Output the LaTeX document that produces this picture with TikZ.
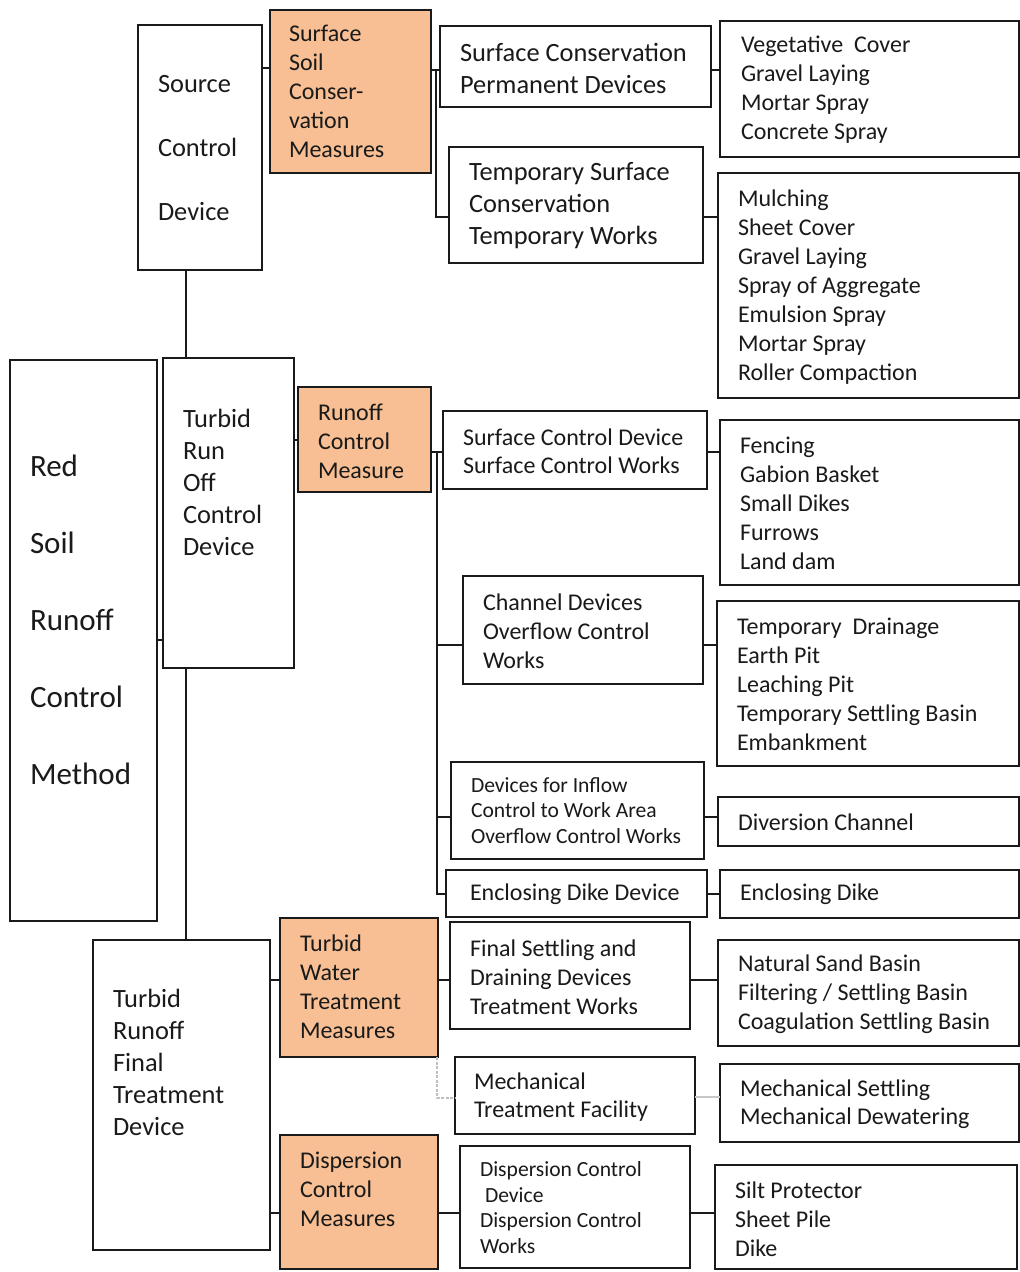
\documentclass[tikz,border=0pt]{standalone}
\usepackage{fontspec}
\setmainfont{Carlito}
\definecolor{orangefill}{HTML}{F7BF93}
\definecolor{linec}{HTML}{1A1A1A}
\tikzset{
  box/.style={draw=linec, line width=2.1pt, inner sep=0pt, outer sep=0pt},
  obox/.style={fill=orangefill},
  txt/.style={inner sep=0pt, outer sep=0pt, align=left, anchor=west, text=linec},
  fH/.style={font=\fontsize{31}{77}\selectfont},
  fS/.style={font=\fontsize{26.4}{64}\selectfont},
  fB/.style={font=\fontsize{26.4}{32}\selectfont},
  fM/.style={font=\fontsize{24}{29}\selectfont},
  fN/.style={font=\fontsize{24}{28}\selectfont},
  fs/.style={font=\fontsize{21.6}{25.7}\selectfont},
  conn/.style={draw=linec, line width=1.9pt},
  gconn/.style={draw=black!25, line width=1.8pt, dash pattern=on 3pt off 1.5pt},
  gsolid/.style={draw=black!22, line width=1.8pt}
}
\newcommand\bx[9]{%
  \node[box,#8,anchor=north west,minimum width={#4-#2},minimum height={#5-#3}] (#1) at (#2,#3) {};
  \node[txt,#8,draw=none,fill=none] (#1-t) at (#6,#7) {#9};
}
\begin{document}
\begin{tikzpicture}[x=1pt,y=-1pt]
\useasboundingbox (0,0) rectangle (1020,1272);
\fill[white] (0,0) rectangle (1020,1272);
\begin{scope}
\clip (0,0) rectangle (1020,1272);
% column 1/2
\bx{src}{138}{25}{262}{270}{158}{148}{fS}{Source\\Control\\Device}
\bx{ss}{270}{10}{431}{173}{289}{91.5}{obox,fM}{Surface\\Soil\\Conser-\\vation\\Measures}
\bx{scp}{440}{26}{711}{107}{460}{68}{fB}{Surface Conservation\\Permanent Devices}
\bx{tsc}{449}{147}{703}{263}{469}{205.5}{fB}{Temporary Surface\\Conservation\\Temporary Works}
\bx{veg}{720}{21}{1019}{157}{741}{90}{fM}{Vegetative~ Cover\\Gravel Laying\\Mortar Spray\\Concrete Spray}
\bx{mul}{718}{173}{1019}{398}{738}{287.5}{fM}{Mulching\\Sheet Cover\\Gravel Laying\\Spray of Aggregate\\Emulsion Spray\\Mortar Spray\\Roller Compaction}
\bx{red}{10}{360}{157}{921}{30}{620}{fH}{Red\\Soil\\Runoff\\Control\\Method}
\bx{trc}{163}{358}{294}{668}{183}{482}{fB}{Turbid\\Run\\Off\\Control\\Device}
\bx{rcm}{298}{387}{431}{492}{318}{441}{obox,fM}{Runoff\\Control\\Measure}
\bx{scd}{443}{411}{707}{489}{463}{451}{fN}{Surface Control Device\\Surface Control Works}
\bx{chd}{463}{576}{703}{684}{483}{631}{fM}{Channel Devices\\Overflow Control\\Works}
\bx{dif}{451}{762}{704}{859}{471}{810.5}{fs}{Devices for Inflow\\Control to Work Area\\Overflow Control Works}
\bx{edd}{446}{870}{707}{917}{470}{894}{fM}{Enclosing Dike Device}
\bx{fen}{720}{420}{1019}{585}{740}{503.5}{fM}{Fencing\\Gabion Basket\\Small Dikes\\Furrows\\Land dam}
\bx{tdr}{717}{601}{1019}{766}{737}{684}{fM}{Temporary~ Drainage\\Earth Pit\\Leaching Pit\\Temporary Settling Basin\\Embankment}
\bx{div}{718}{797}{1019}{846}{738}{822}{fM}{Diversion Channel}
\bx{end}{720}{870}{1019}{918}{740}{894}{fM}{Enclosing Dike}
\bx{trf}{93}{940}{270}{1250}{113}{1062}{fB}{Turbid\\Runoff\\Final\\Treatment\\Device}
\bx{twt}{280}{918}{438}{1057}{300}{987}{obox,fM}{Turbid\\Water\\Treatment\\Measures}
\bx{dcm}{280}{1135}{438}{1269}{300}{1189.5}{obox,fM}{Dispersion\\Control\\Measures}
\bx{fsd}{450}{922}{690}{1029}{470}{977}{fM}{Final Settling and\\Draining Devices\\Treatment Works}
\bx{mtf}{455}{1057}{695}{1134}{474}{1097}{fN}{Mechanical\\Treatment Facility}
\bx{nsb}{718}{940}{1019}{1046}{738}{994.5}{fM}{Natural Sand Basin\\Filtering / Settling Basin\\Coagulation Settling Basin}
\bx{mse}{720}{1064}{1019}{1142}{740}{1104}{fN}{Mechanical Settling\\Mechanical Dewatering}
\bx{dcd}{460}{1146}{690}{1268}{480}{1207.5}{fs}{Dispersion Control\\\hspace{5pt}Device\\Dispersion Control\\Works}
\bx{silt}{715}{1165}{1017}{1269}{735}{1219.5}{fM}{Silt Protector\\Sheet Pile\\Dike}
\end{scope}
% trunk
\coordinate (tr) at (186,0);
\draw[conn] (src.south -| tr) -- (trc.north -| tr);
\draw[conn] (trc.south -| tr) -- (trf.north -| tr);
\draw[conn] (red.east |- 0,640) -- (trc.west |- 0,640);
% source branch
\draw[conn] (src.east |- 0,68) -- (ss.west |- 0,68);
\coordinate (s1a) at (436,70);
\coordinate (s1b) at (436,217);
\draw[conn] (ss.east |- s1a) -- (scp.west |- s1a);
\draw[conn] (s1a) -- (s1b) -- (tsc.west |- s1b);
\draw[conn] (scp.east |- s1a) -- (veg.west |- s1a);
\draw[conn] (tsc.east |- s1b) -- (mul.west |- s1b);
% runoff branch
\draw[conn] (trc.east |- 0,440) -- (rcm.west |- 0,440);
\coordinate (s2a) at (437,452);
\coordinate (s2b) at (437,645);
\coordinate (s2c) at (437,817);
\coordinate (s2d) at (437,894);
\draw[conn] (rcm.east |- s2a) -- (scd.west |- s2a);
\draw[conn] (s2a) -- (s2d) -- (edd.west |- s2d);
\draw[conn] (s2b) -- (chd.west |- s2b);
\draw[conn] (s2c) -- (dif.west |- s2c);
\draw[conn] (scd.east |- s2a) -- (fen.west |- s2a);
\draw[conn] (chd.east |- s2b) -- (tdr.west |- s2b);
\draw[conn] (dif.east |- s2c) -- (div.west |- s2c);
\draw[conn] (edd.east |- s2d) -- (end.west |- s2d);
% final treatment branch
\draw[conn] (trf.east |- 0,980) -- (twt.west |- 0,980);
\draw[conn] (twt.east |- 0,980) -- (fsd.west |- 0,980);
\draw[conn] (fsd.east |- 0,980) -- (nsb.west |- 0,980);
\draw[gconn] ([xshift=-1pt]twt.south east) -- ([xshift=-1pt]twt.south east |- 0,1098) -- (mtf.west |- 0,1098);
\draw[gsolid] (mtf.east |- 0,1097) -- (mse.west |- 0,1097);
\draw[conn] (trf.east |- 0,1213) -- (dcm.west |- 0,1213);
\draw[conn] (dcm.east |- 0,1213) -- (dcd.west |- 0,1213);
\draw[conn] (dcd.east |- 0,1213) -- (silt.west |- 0,1213);
\end{tikzpicture}
\end{document}
